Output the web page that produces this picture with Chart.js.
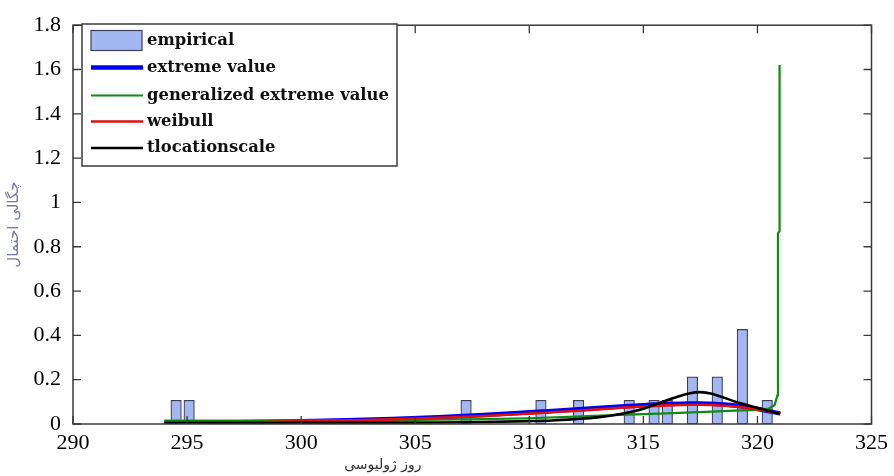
<!DOCTYPE html>
<html>
<head>
<meta charset="utf-8">
<script src="https://cdn.jsdelivr.net/npm/chart.js@4.4.1/dist/chart.umd.min.js"></script>
<style>
html,body{margin:0;padding:0;background:#fff;}
#wrap{width:894px;height:476px;position:relative;}
</style>
</head>
<body>
<div id="wrap"><canvas id="c" width="894" height="476"></canvas></div>
<script>
// ---- data ----
const binCenters = [294.52, 295.09, 307.23, 310.51, 312.16, 314.38, 315.47, 316.05, 317.15, 318.24, 319.34, 320.43];
const empiricalDensity = [0.107, 0.107, 0.107, 0.107, 0.107, 0.107, 0.107, 0.107, 0.213, 0.213, 0.427, 0.107];

const days = [294, 296, 298, 300, 302, 304, 306, 308, 310, 311, 312, 313, 314, 315, 316, 317, 317.5, 318, 319, 320, 321];
const extremeValue = [0.004, 0.006, 0.009, 0.012, 0.017, 0.023, 0.031, 0.041, 0.053, 0.059, 0.065, 0.072, 0.079, 0.085, 0.090, 0.093, 0.093, 0.091, 0.083, 0.068, 0.048];
const weibull = [0.003, 0.005, 0.008, 0.012, 0.016, 0.021, 0.028, 0.036, 0.047, 0.053, 0.059, 0.066, 0.073, 0.079, 0.084, 0.087, 0.087, 0.086, 0.079, 0.066, 0.047];
const tlocationscale = [0.004, 0.004, 0.004, 0.005, 0.005, 0.006, 0.007, 0.009, 0.013, 0.016, 0.022, 0.030, 0.045, 0.069, 0.106, 0.138, 0.144, 0.137, 0.102, 0.073, 0.045];

const gevDays = [294, 298, 302, 305, 308, 310, 312, 314, 316, 318, 319, 320, 320.5, 320.75, 320.88, 320.9, 320.97, 320.97];
const gev = [0.015, 0.015, 0.016, 0.018, 0.022, 0.026, 0.033, 0.041, 0.048, 0.056, 0.060, 0.064, 0.070, 0.085, 0.130, 0.860, 0.870, 1.620];

const xTickLabels = ['290', '295', '300', '305', '310', '315', '320', '325'];
const yTickLabels = ['0', '0.2', '0.4', '0.6', '0.8', '1', '1.2', '1.4', '1.6', '1.8'];
const seriesLabels = ['empirical', 'extreme value', 'generalized extreme value', 'weibull', 'tlocationscale'];
const xTitle = 'روز ژولیوسی';
const yTitle = 'چگالی احتمال';

const pts = (xs, ys) => xs.map((x, i) => ({x: x, y: ys[i]}));

const AXIS = '#3a3a3a';

const framePlugin = {
  id: 'frame',
  afterDatasetsDraw(chart) {
    const {ctx, chartArea: a, scales} = chart;
    ctx.save();
    ctx.strokeStyle = AXIS;
    ctx.lineWidth = 1.5;
    ctx.strokeRect(a.left, a.top, a.right - a.left, a.bottom - a.top);
    ctx.lineWidth = 1.3;
    const tl = 8;
    ctx.beginPath();
    scales.x.ticks.forEach(t => {
      const px = scales.x.getPixelForValue(t.value);
      ctx.moveTo(px, a.bottom); ctx.lineTo(px, a.bottom - tl);
      ctx.moveTo(px, a.top); ctx.lineTo(px, a.top + tl);
    });
    scales.y.ticks.forEach(t => {
      const py = scales.y.getPixelForValue(t.value);
      ctx.moveTo(a.left, py); ctx.lineTo(a.left + tl, py);
      ctx.moveTo(a.right, py); ctx.lineTo(a.right - tl, py);
    });
    ctx.stroke();
    ctx.restore();
  },
  afterDraw(chart) {
    const {ctx, chartArea: a} = chart;
    ctx.save();
    // axis titles
    ctx.fillStyle = '#303030';
    ctx.font = '14px "DejaVu Sans"';
    ctx.textAlign = 'center';
    ctx.textBaseline = 'middle';
    ctx.direction = 'rtl';
    ctx.fillText(xTitle, a.left + (a.right - a.left) * 0.388, 465);
    ctx.translate(14, (a.top + a.bottom) / 2);
    ctx.rotate(-Math.PI / 2);
    ctx.fillStyle = '#7478a8';
    ctx.font = '15px "DejaVu Sans"';
    ctx.fillText(yTitle, 0, 0);
    ctx.restore();

    // legend
    ctx.save();
    const lx = 82, ly = 24, lw = 315, lh = 142;
    ctx.fillStyle = '#fff';
    ctx.fillRect(lx, ly, lw, lh);
    ctx.strokeStyle = AXIS;
    ctx.lineWidth = 1.5;
    ctx.strokeRect(lx, ly, lw, lh);
    const rows = [40.5, 67.5, 95.5, 121.5, 148];
    const ds = chart.data.datasets;
    ctx.font = 'bold 16.4px "DejaVu Serif"';
    ctx.textAlign = 'left';
    ctx.textBaseline = 'middle';
    ds.forEach((d, i) => {
      const y = rows[i];
      if (d.type === 'bar') {
        ctx.fillStyle = d.backgroundColor;
        ctx.fillRect(91, y - 10, 51, 20);
        ctx.strokeStyle = d.borderColor;
        ctx.lineWidth = 1.2;
        ctx.strokeRect(91, y - 10, 51, 20);
      } else {
        ctx.strokeStyle = d.borderColor;
        ctx.lineWidth = d.borderWidth;
        ctx.beginPath();
        ctx.moveTo(91, y); ctx.lineTo(143, y);
        ctx.stroke();
      }
      ctx.fillStyle = '#111';
      ctx.fillText(d.label, 147, y);
    });
    ctx.restore();
  }
};

new Chart(document.getElementById('c'), {
  data: {
    datasets: [
      {type: 'bar', label: seriesLabels[0], data: pts(binCenters, empiricalDensity),
       backgroundColor: '#a3b8f3', borderColor: '#3c3f5c', borderWidth: 1.2, borderSkipped: false,
       barThickness: 10.5, order: 5},
      {type: 'line', label: seriesLabels[1], data: pts(days, extremeValue),
       borderColor: '#0000f0', borderWidth: 4.5, pointRadius: 0, cubicInterpolationMode: 'monotone', order: 4},
      {type: 'line', label: seriesLabels[2], data: pts(gevDays, gev),
       borderColor: '#108a10', borderWidth: 2.2, pointRadius: 0, tension: 0, order: 3},
      {type: 'line', label: seriesLabels[3], data: pts(days, weibull),
       borderColor: '#dd1010', borderWidth: 2.6, pointRadius: 0, cubicInterpolationMode: 'monotone', order: 2},
      {type: 'line', label: seriesLabels[4], data: pts(days, tlocationscale),
       borderColor: '#000000', borderWidth: 2.6, pointRadius: 0, cubicInterpolationMode: 'monotone', order: 1}
    ]
  },
  options: {
    responsive: false,
    animation: false,
    devicePixelRatio: 1,
    layout: {padding: {left: 0, top: 15, right: 21, bottom: 0}},
    plugins: {legend: {display: false}, tooltip: {enabled: false}, title: {display: false}},
    scales: {
      x: {
        type: 'linear', min: 290, max: 325, offset: false,
        grid: {display: false, drawTicks: false, offset: false}, border: {display: false},
        ticks: {stepSize: 5, padding: 6, color: '#000', font: {family: '"Liberation Serif"', size: 22},
                maxRotation: 0, autoSkip: false,
                callback: (v, i) => xTickLabels[i]},
        afterFit: s => { s.height = 52; }
      },
      y: {
        type: 'linear', min: 0, max: 1.8,
        grid: {display: false, drawTicks: false}, border: {display: false},
        ticks: {stepSize: 0.2, padding: 12, color: '#000', font: {family: '"Liberation Serif"', size: 22},
                autoSkip: false,
                callback: (v, i) => yTickLabels[i]},
        afterFit: s => { s.width = 73; }
      }
    }
  },
  plugins: [framePlugin]
});
</script>
</body>
</html>
